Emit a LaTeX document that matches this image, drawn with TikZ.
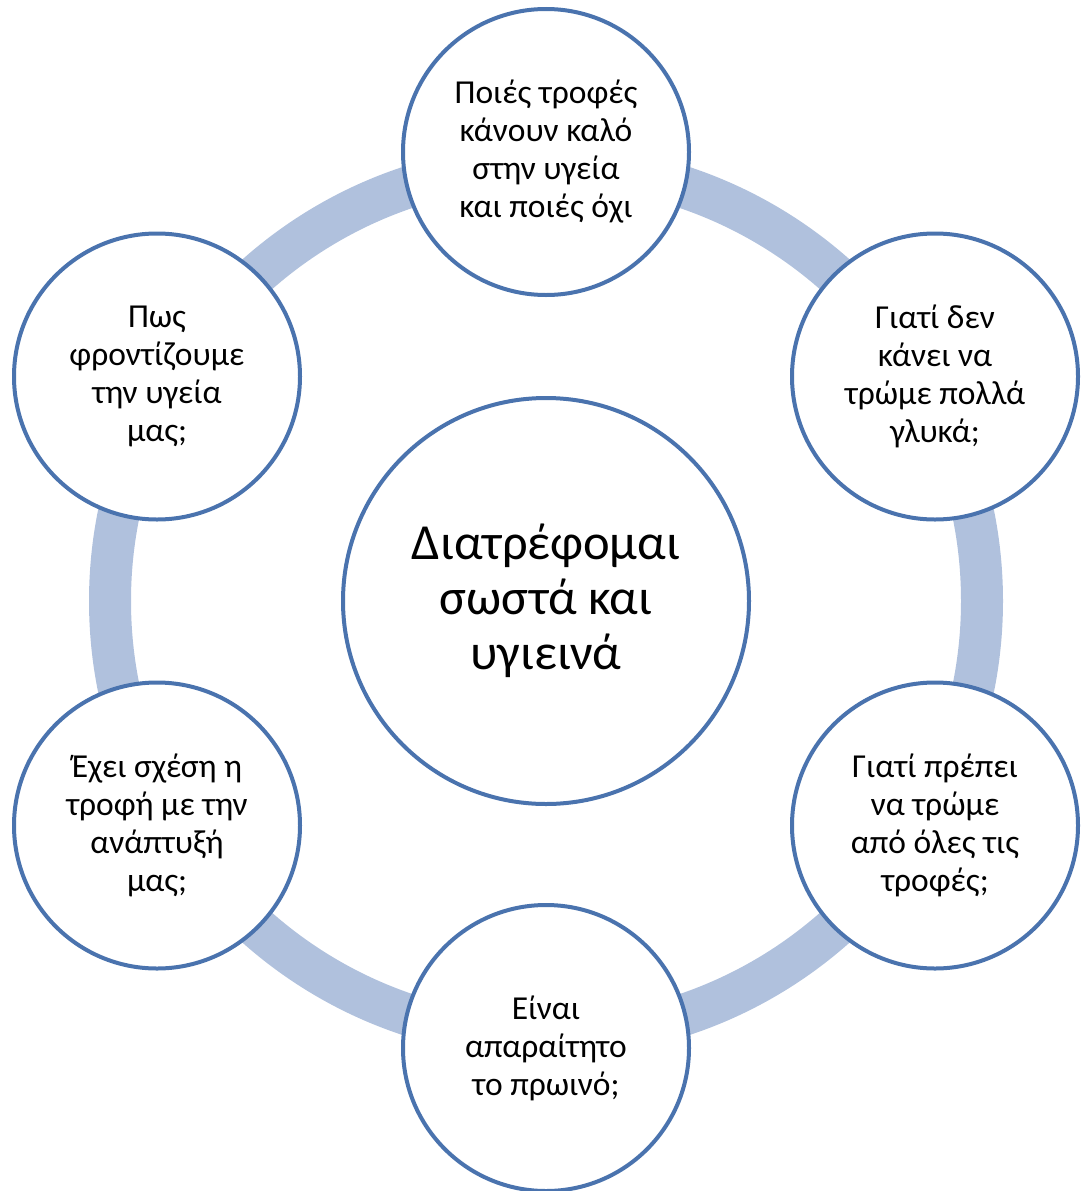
\documentclass[tikz,border=0pt]{standalone}
\usepackage{fontspec}
\setmainfont{Carlito}
\definecolor{ringblue}{HTML}{B0C1DD}
\definecolor{edgeblue}{HTML}{4A73AE}
\begin{document}
\begin{tikzpicture}[x=1pt,y=-1pt,
  sat/.style={circle,draw=edgeblue,line width=4pt,fill=white,minimum size=286pt,inner sep=0pt,align=center,
    font=\fontsize{33.5}{38}\selectfont},
  hub/.style={circle,draw=edgeblue,line width=4pt,fill=white,minimum size=406pt,inner sep=0pt,align=center,
    font=\fontsize{50.5}{55}\selectfont}]
\useasboundingbox (0,0) rectangle (1081,1191);
\coordinate (c) at (546,601);
\draw[ringblue,line width=42pt] (c) circle[radius=436pt];
\node[hub] (hub) at (c) {Διατρέφομαι\\σωστά και\\υγιεινά};
\node[sat] (s1) at (546,152) {Ποιές τροφές\\κάνουν καλό\\στην υγεία\\και ποιές όχι};
\node[sat] (s2) at (935,376.5) {Γιατί δεν\\κάνει να\\τρώμε πολλά\\γλυκά;};
\node[sat] (s3) at (935,825.5) {Γιατί πρέπει\\να τρώμε\\από όλες τις\\τροφές;};
\node[sat] (s4) at (546,1048) {Είναι\\απαραίτητο\\το πρωινό;};
\node[sat] (s5) at (157,825.5) {Έχει σχέση η\\τροφή με την\\ανάπτυξή\\μας;};
\node[sat] (s6) at (157,376.5) {Πως\\φροντίζουμε\\την υγεία\\μας;};
\end{tikzpicture}
\end{document}
